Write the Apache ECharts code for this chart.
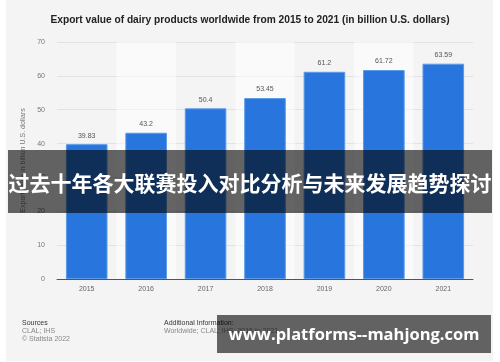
<!DOCTYPE html>
<html>
<head>
<meta charset="utf-8">
<script src="https://cdn.jsdelivr.net/npm/echarts@6/dist/echarts.min.js"></script>
<style>
html,body{margin:0;padding:0;background:#fff;}
#bg{position:absolute;left:6px;top:0;width:487px;height:361px;background:#f4f4f4;}
#chart{position:absolute;left:0;top:0;width:500px;height:362px;}
</style>
</head>
<body>
<div id="bg"></div>
<div id="chart"></div>
<script>
const years = ['2015','2016','2017','2018','2019','2020','2021'];
const exportValues = [39.83, 43.2, 50.4, 53.45, 61.2, 61.72, 63.59];
const yTicks = [0,10,20,30,40,50,60,70];
const titleText = 'Export value of dairy products worldwide from 2015 to 2021 (in billion U.S. dollars)';
const yAxisName = 'Export value in billion U.S. dollars';
const bannerText = '过去十年各大联赛投入对比分析与未来发展趋势探讨';
const urlText = 'www.platforms--mahjong.com';

const chart = echarts.init(document.getElementById('chart'), null, {renderer:'canvas'});
const font = 'Liberation Sans, Arial, sans-serif';
chart.setOption({
  backgroundColor: 'transparent',
  animation: false,
  title: {
    text: titleText, left: 'center', top: 10,
    textStyle: {fontFamily: font, fontSize: 10.2, fontWeight: 'bold', color: '#222'}
  },
  grid: {left: 57, right: 27, top: 42, bottom: 83},
  xAxis: {
    type: 'category', data: years,
    axisLine: {lineStyle: {color: '#555', width: 1}},
    axisTick: {show: false},
    axisLabel: {fontFamily: font, fontSize: 7, color: '#666', margin: 7},
    splitArea: {show: true, areaStyle: {color: ['rgba(255,255,255,0)', 'rgba(255,255,255,0.5)']}}
  },
  yAxis: {
    type: 'value', min: yTicks[0], max: yTicks[yTicks.length-1], interval: 10,
    name: yAxisName, nameLocation: 'middle', nameGap: 22,
    nameTextStyle: {fontFamily: font, fontSize: 7, color: '#777'},
    axisLine: {show: false}, axisTick: {show: false},
    axisLabel: {fontFamily: font, fontSize: 7, color: '#777', margin: 12},
    splitLine: {lineStyle: {color: '#e2e2e2', width: 1}}
  },
  series: [{
    type: 'bar', data: exportValues, barWidth: '70%',
    itemStyle: {color: '#2876dd', borderColor: '#5b9ae6', borderWidth: 1},
    label: {show: true, position: 'top', distance: 5, fontFamily: font, fontSize: 7, color: '#555'}
  }],
  graphic: [
    {type: 'text', left: 22, top: 320, style: {text: 'Sources', fontFamily: font, fontSize: 7, fill: '#333'}},
    {type: 'text', left: 22, top: 328, style: {text: 'CLAL; IHS', fontFamily: font, fontSize: 7, fill: '#888'}},
    {type: 'text', left: 22, top: 336, style: {text: '© Statista 2022', fontFamily: font, fontSize: 7, fill: '#888'}},
    {type: 'text', left: 164, top: 320, style: {text: 'Additional Information:', fontFamily: font, fontSize: 7, fill: '#333'}},
    {type: 'text', left: 164, top: 328, style: {text: 'Worldwide; CLAL; IHS; 2015 to 2021', fontFamily: font, fontSize: 7, fill: '#888'}},
    {type: 'rect', z: 100, shape: {x: 8, y: 150, width: 484, height: 63}, style: {fill: 'rgba(0,0,0,0.6)'}},
    {type: 'text', z: 101, x: 250, y: 183, style: {text: bannerText, fontFamily: 'Noto Sans CJK SC', fontSize: 21, fontWeight: 'bold', fill: '#fff', textAlign: 'center', textVerticalAlign: 'middle'}},
    {type: 'rect', z: 100, shape: {x: 217, y: 315, width: 274, height: 38}, style: {fill: 'rgba(0,0,0,0.6)'}},
    {type: 'text', z: 101, x: 354, y: 335, style: {text: urlText, fontFamily: 'Open Sans', fontSize: 16.5, fontWeight: 'bold', fill: '#fff', textAlign: 'center', textVerticalAlign: 'middle'}}
  ]
});
</script>
</body>
</html>
